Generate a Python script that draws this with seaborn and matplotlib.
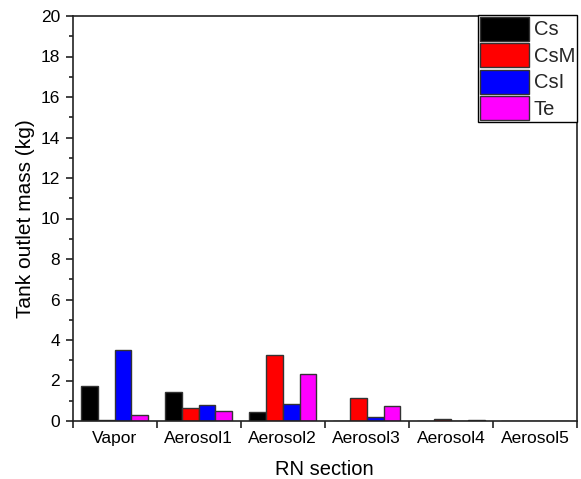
import matplotlib
matplotlib.use("Agg")
import matplotlib.pyplot as plt
import seaborn as sns
import pandas as pd
from matplotlib.ticker import MultipleLocator, FixedLocator
from matplotlib.patches import Patch

sections = ["Vapor", "Aerosol1", "Aerosol2", "Aerosol3", "Aerosol4", "Aerosol5"]
species = ["Cs", "CsM", "CsI", "Te"]
cs_vals = [1.71, 1.45, 0.46, 0.0, 0.0, 0.0]
csm_vals = [0.03, 0.63, 3.26, 1.14, 0.08, 0.0]
csi_vals = [3.53, 0.78, 0.84, 0.22, 0.0, 0.0]
te_vals = [0.30, 0.49, 2.34, 0.73, 0.03, 0.0]
colors = ["#000000", "#FF0000", "#0000FF", "#FF00FF"]

rows = []
for sp, vals in zip(species, [cs_vals, csm_vals, csi_vals, te_vals]):
    for sec, v in zip(sections, vals):
        rows.append({"section": sec, "species": sp, "mass": v})
df = pd.DataFrame(rows)

sns.set_theme(style="ticks")
plt.rcParams["font.family"] = ["Liberation Sans", "DejaVu Sans"]

fig = plt.figure(figsize=(5.81, 4.79), dpi=100)
ax = fig.add_axes([72.5 / 581, 1 - 421 / 479, (577 - 72.5) / 581, (421 - 16) / 479])

sns.barplot(data=df, x="section", y="mass", hue="species", order=sections,
            hue_order=species, palette=colors, width=0.8, edgecolor="#333333",
            linewidth=1.0, saturation=1, ax=ax, legend=False)

ax.set_xlim(-0.5, 5.5)
ax.set_ylim(0, 20)
ax.yaxis.set_major_locator(MultipleLocator(2))
ax.yaxis.set_minor_locator(MultipleLocator(1))
ax.xaxis.set_minor_locator(FixedLocator([i - 0.5 for i in range(7)]))
ax.tick_params(axis="x", which="major", length=0, labelsize=12.5, pad=7, colors="black")
ax.tick_params(axis="x", which="minor", length=5, width=1.2, direction="out", color="#222222")
ax.tick_params(axis="y", which="major", length=5, width=1.2, labelsize=12.5, direction="out",
               color="#222222", labelcolor="black", pad=4)
ax.tick_params(axis="y", which="minor", length=3, width=1.2, direction="out", color="#222222")
ax.tick_params(top=False, right=False)
for s in ax.spines.values():
    s.set_visible(True)
    s.set_linewidth(1.2)
    s.set_color("#222222")

ax.set_xlabel("RN section", fontsize=14.5, labelpad=10, color="black")
ax.set_ylabel("Tank outlet mass (kg)", fontsize=15, labelpad=4, color="black")

handles = [Patch(facecolor=c, edgecolor="#333333", linewidth=1.0, label=s)
           for c, s in zip(colors, species)]
leg = ax.legend(handles=handles, loc="upper right", bbox_to_anchor=(1.0, 1.003),
                borderaxespad=0, fontsize=14.5, frameon=True, fancybox=False,
                edgecolor="black", framealpha=1, handlelength=2.4, handleheight=1.46,
                labelspacing=0.12, handletextpad=0.25, borderpad=0.1)
leg.get_frame().set_linewidth(1.0)

fig.savefig("out.png", dpi=100)
